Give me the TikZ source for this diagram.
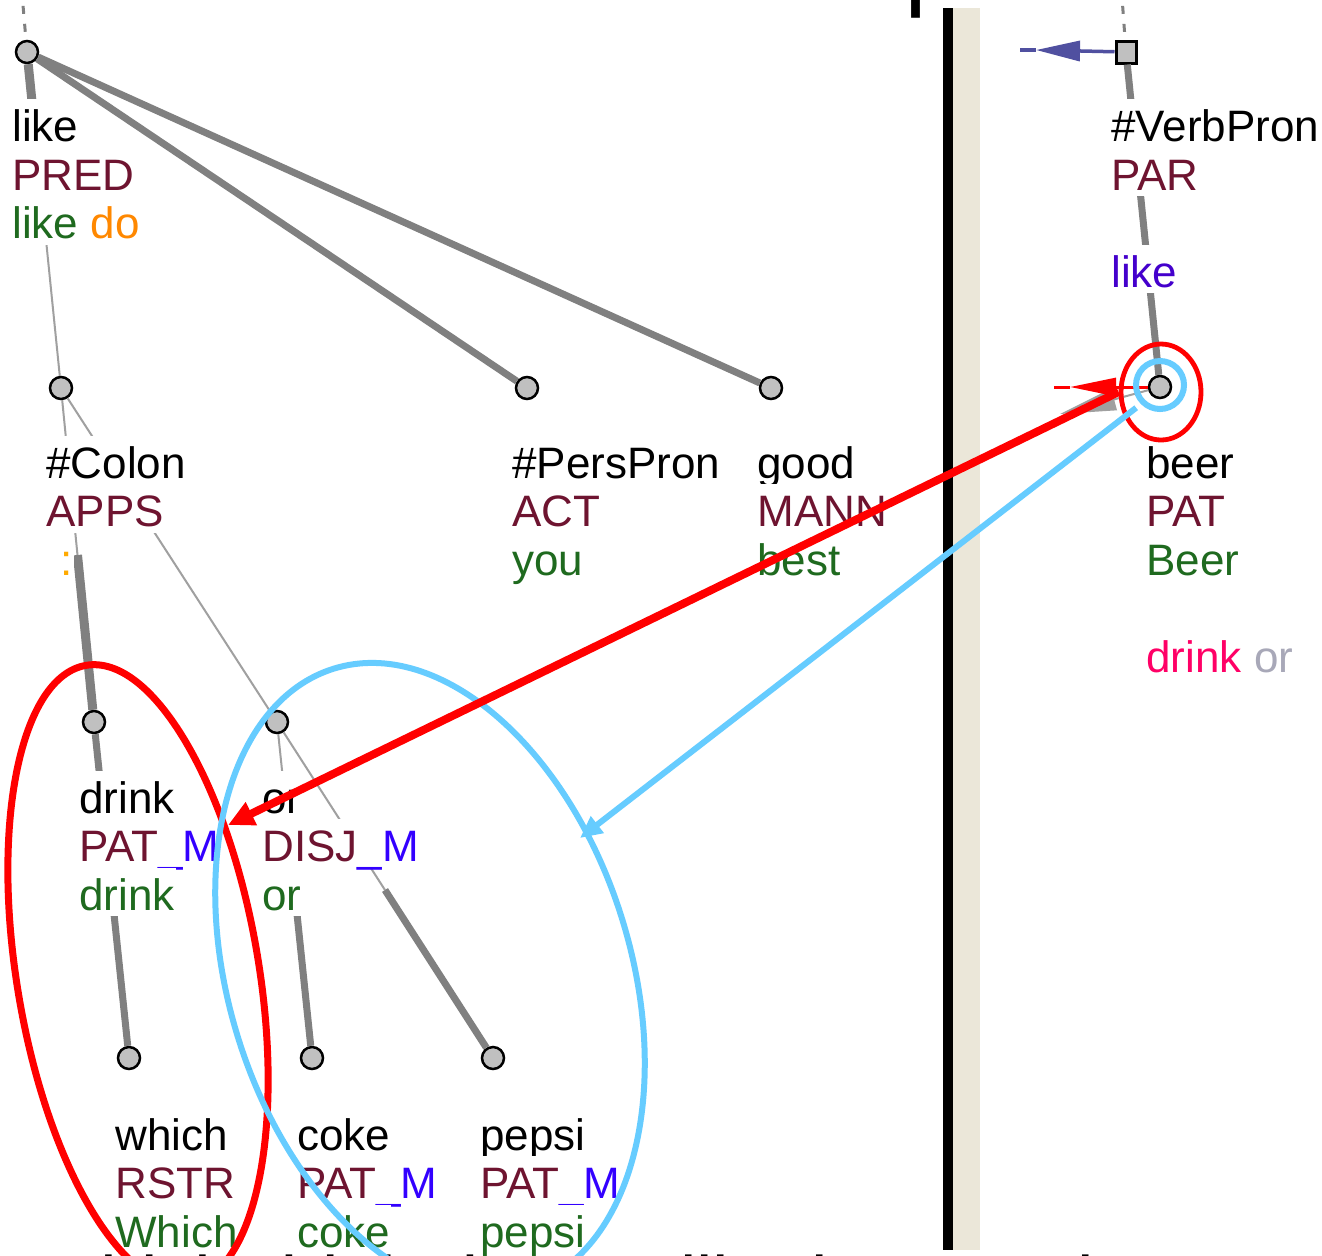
\documentclass[tikz,border=0pt]{standalone}
\usepackage{fontspec}
\newfontfamily\trfont{Liberation Sans}
\usetikzlibrary{calc,arrows.meta,shapes.geometric}
\definecolor{nodegray}{HTML}{C0C0C0}
\definecolor{edgegray}{HTML}{808080}
\definecolor{thingray}{HTML}{A0A0A0}
\definecolor{fcol}{HTML}{6E1430}
\definecolor{mcol}{HTML}{3300FF}
\definecolor{lcol}{HTML}{1F6A1F}
\definecolor{docol}{HTML}{FF8800}
\definecolor{coloncol}{HTML}{FFAA00}
\definecolor{likecol}{HTML}{4400CC}
\definecolor{pinkcol}{HTML}{FF0066}
\definecolor{orcol}{HTML}{A8A8B8}
\definecolor{corefblue}{HTML}{5050A0}
\definecolor{hlblue}{HTML}{66CCFF}
\definecolor{hlred}{HTML}{FF0000}
\definecolor{barbeige}{HTML}{EBE7D9}
\begin{document}
\begin{tikzpicture}[x=0.5pt,y=-0.5pt,
  tnode/.style={circle,draw=black,fill=nodegray,line width=1.25pt,minimum size=11pt,inner sep=0pt},
  sqnode/.style={rectangle,draw=black,fill=nodegray,line width=1.5pt,minimum width=10pt,minimum height=11pt,inner sep=0pt},
  thickedge/.style={draw=edgegray,line width=3.5pt},
  widedge/.style={draw=edgegray,line width=4.5pt},
  thinedge/.style={draw=thingray,line width=1pt},
  techedge/.style={draw=edgegray,line width=1.5pt,dash pattern=on 4pt off 5pt},
  lbl/.style={anchor=base west,fill=white,inner xsep=0.5pt,inner ysep=0pt,text height=21.25pt,text depth=3pt,font=\trfont\fontsize{22}{24}\selectfont},
  fnl/.style={lbl,text=fcol},
  lml/.style={lbl,text=lcol},
  bigtext/.style={anchor=base west,inner sep=0pt,text=black}
]
\useasboundingbox (0,0) rectangle (1322,1255);
\fill[white] (0,0) rectangle (1322,1255);
\clip (0,0) rectangle (1322,1255);

% cut-off slide texts
\node[bigtext,font=\trfont\fontsize{50}{60}\selectfont] (title) at (532,-3) {Choice question};
\node[bigtext,font=\trfont\fontsize{37}{44}\selectfont] (sentence) at (30,1308) {Which drink do you like best: coke or pepsi?};

% tree nodes
\coordinate (troot1) at (20,-30);
\coordinate (troot2) at (1120,-30);
\node[tnode] (root) at (27,52) {};
\node[tnode] (colon) at (61,388) {};
\node[tnode] (perspron) at (527,388) {};
\node[tnode] (good) at (771,388) {};
\node[tnode] (drink) at (94,722) {};
\node[tnode] (orn) at (277,722) {};
\node[tnode] (which) at (129,1058) {};
\node[tnode] (coke) at (312,1058) {};
\node[tnode] (pepsi) at (493,1058) {};
\node[sqnode] (vp) at (1126,52) {};
\node[tnode] (beer) at (1160,387) {};

% edges
\draw[techedge] (troot1) -- (root);
\draw[techedge] (troot2) -- (vp);
\draw[widedge] (root) -- ($(root)!.5!(colon)$);
\draw[thinedge] ($(root)!.5!(colon)$) -- (colon);
\draw[thickedge] (root) -- (perspron);
\draw[thickedge] (root) -- (good);
\draw[thinedge] (colon) -- ($(colon)!.5!(drink)$);
\draw[widedge] ($(colon)!.5!(drink)$) -- (drink);
\draw[thinedge] (colon) -- (orn);
\draw[thickedge] (drink) -- (which);
\draw[thinedge] (orn) -- ($(orn)!.5!(coke)$);
\draw[thickedge] ($(orn)!.5!(coke)$) -- (coke);
\draw[thinedge] (orn) -- ($(orn)!.5!(pepsi)$);
\draw[thickedge] ($(orn)!.5!(pepsi)$) -- (pepsi);
\draw[thickedge] (vp) -- (beer);

% labels
\node[lbl] (l-root-a) at (11,141.5) {like};
\node[fnl] (l-root-b) at (11,190) {PRED};
\node[lbl] (l-root-c) at (11,238.5) {\textcolor{lcol}{like} \textcolor{docol}{do}};

\node[lbl] (l-colon-a) at (45,478) {\#Colon};
\node[fnl] (l-colon-b) at (45,526.5) {APPS};
\node[lbl,text=coloncol] (l-colon-c) at (59,575) {:};

\node[lbl] (l-pers-a) at (511,478) {\#PersPron};
\node[fnl] (l-pers-b) at (511,526.5) {ACT};
\node[lml] (l-pers-c) at (511,575) {you};

\node[lbl] (l-good-a) at (756,478) {good};
\node[fnl] (l-good-b) at (756,526.5) {MANN};
\node[lml] (l-good-c) at (756,575) {best};

\node[lbl] (l-drink-a) at (78,813) {drink};
\node[fnl] (l-drink-b) at (78,861.5) {PAT\textcolor{mcol}{\_M}};
\node[lml] (l-drink-c) at (78,910) {drink};

\node[lbl] (l-or-a) at (261,813) {or};
\node[fnl] (l-or-b) at (261,861.5) {DISJ\textcolor{mcol}{\_M}};
\node[lml] (l-or-c) at (261,910) {or};

\node[lbl] (l-which-a) at (114,1150) {which};
\node[fnl] (l-which-b) at (114,1198.5) {RSTR};
\node[lml] (l-which-c) at (114,1247) {Which};

\node[lbl] (l-coke-a) at (296,1150) {coke};
\node[fnl] (l-coke-b) at (296,1198.5) {PAT\textcolor{mcol}{\_M}};
\node[lml] (l-coke-c) at (296,1247) {coke};

\node[lbl] (l-pepsi-a) at (479,1150) {pepsi};
\node[fnl] (l-pepsi-b) at (479,1198.5) {PAT\textcolor{mcol}{\_M}};
\node[lml] (l-pepsi-c) at (479,1247) {pepsi};

\node[lbl] (l-vp-a) at (1110,141.5) {\#VerbPron};
\node[fnl] (l-vp-b) at (1110,190) {PAR};
\node[lbl,text=likecol] (l-vp-c) at (1110,287) {like};

\node[lbl] (l-beer-a) at (1145,478) {beer};
\node[fnl] (l-beer-b) at (1145,526.5) {PAT};
\node[lml] (l-beer-c) at (1145,575) {Beer};
\node[lbl] (l-beer-d) at (1145,672) {\textcolor{pinkcol}{drink} \textcolor{orcol}{or}};

% coreference markers
\coordinate (vpmid) at (1036,50);
\coordinate (vpout) at (1020,50);
\draw[corefblue,line width=1.75pt,-{Triangle[length=22pt,width=10pt]}] (vp) -- (vpmid);
\draw[corefblue,line width=1.75pt] (vpmid) -- (vpout);

\coordinate (grayout) at (1060,414);
\draw[thingray,line width=1pt,-{Triangle[length=28pt,width=11pt]}] (beer) -- (grayout);
\coordinate (redmid) at (1070,387);
\coordinate (redout) at (1054,387);
\draw[hlred,line width=1.5pt,-{Triangle[length=23pt,width=9pt]}] (beer) -- (redmid);
\draw[hlred,line width=1.5pt] (redmid) -- (redout);

% separator bar
\fill[black] (943,8) rectangle (953,1250);
\fill[barbeige] (953,8) rectangle (980,1250);

% highlights
\draw[hlred,line width=3.5pt,rotate around={9.5:(138,975)}] (138,975) ellipse [x radius=121,y radius=314];
\draw[hlblue,line width=3pt,rotate around={17.3:(430,978)}] (430,978) ellipse [x radius=201,y radius=324];
\node[ellipse,draw=hlred,line width=2.4pt,minimum width=40pt,minimum height=48pt,inner sep=0pt] (redmark) at (1161,392) {};
\node[circle,draw=hlblue,line width=3pt,minimum size=24pt,inner sep=0pt] (bluemark) at (1160,385) {};

\coordinate (redtip) at (228,825);
\coordinate (bluetip) at (580,838);
\draw[hlred,line width=4pt,-{Triangle[length=13pt,width=12pt]}] (redmark.west) -- (redtip);
\draw[hlblue,line width=3pt,shorten <=3pt,-{Triangle[length=11pt,width=10pt]}] (bluemark.225) -- (bluetip);
\end{tikzpicture}
\end{document}
